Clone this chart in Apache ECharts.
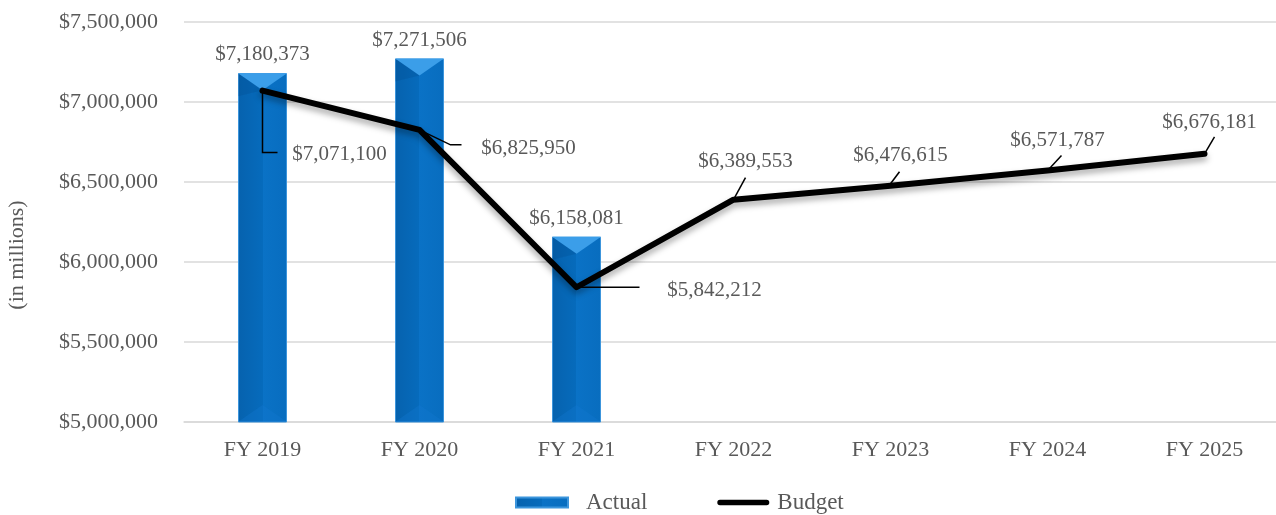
<!DOCTYPE html>
<html>
<head>
<meta charset="utf-8">
<script src="https://cdn.jsdelivr.net/npm/echarts@6/dist/echarts.min.js"></script>
<style>
  html, body { margin: 0; padding: 0; background: #fff; }
  #chart { width: 1276px; height: 515px; }
</style>
</head>
<body>
<div id="chart"></div>
<script>
// data
var years = ['FY 2019', 'FY 2020', 'FY 2021', 'FY 2022', 'FY 2023', 'FY 2024', 'FY 2025'];
var actual = [7180373, 7271506, 6158081, null, null, null, null];
var budget = [7071100, 6825950, 5842212, 6389553, 6476615, 6571787, 6676181];
var yTicks = [5000000, 5500000, 6000000, 6500000, 7000000, 7500000];

// where each budget label sits relative to its point, and its leader line
var budgetLabelOffset = [[77, 64], [109, 19], [138, 3], [12, -38], [10, -30], [10, -30], [5, -31]];
var budgetLeader = [
  [[0, 0], [0, 62], [15, 62]],
  [[0, 0], [31, 15], [42, 15]],
  [[0, 0], [63, 0]],
  [[0, 0], [12, -22]],
  [[0, -2], [9, -14]],
  [[2, -2], [14, -15]],
  [[0, 0], [10, -17]]
];

var font = 'Liberation Serif, Times New Roman, serif';
var txt = '#595959';

function money(v) {
  return '$' + String(v).replace(/\B(?=(\d{3})+(?!\d))/g, ',');
}

var chart = echarts.init(document.getElementById('chart'));

var barFill = new echarts.graphic.LinearGradient(0, 0, 1, 0, [
  { offset: 0, color: '#0662ae' },
  { offset: 0.5, color: '#066bbc' },
  { offset: 0.5, color: '#0a72c6' },
  { offset: 1, color: '#086dbf' }
]);

chart.setOption({
  animation: false,
  grid: { left: 184, top: 22, width: 1099, height: 400, outerBoundsMode: 'none', containLabel: false },
  legend: {
    top: 491,
    left: 515,
    padding: 0,
    itemWidth: 52,
    itemHeight: 10,
    itemGap: 70,
    textStyle: { fontFamily: font, fontSize: 23, color: txt },
    data: [
      { name: 'Actual', icon: 'rect', textStyle: { padding: [0, 0, 0, 13] } },
      { name: 'Budget', icon: 'path://M3,0 L55,0 A3,3 0 0 1 55,6 L3,6 A3,3 0 0 1 3,0 Z',
        itemStyle: { color: '#000' }, textStyle: { padding: [0, 0, 0, 3] } }
    ]
  },
  xAxis: {
    type: 'category',
    data: years,
    axisLine: { lineStyle: { color: '#d9d9d9', width: 1.5 } },
    axisTick: { show: false },
    axisLabel: { fontFamily: font, fontSize: 22, color: txt, margin: 17 }
  },
  yAxis: {
    type: 'value',
    min: yTicks[0],
    max: yTicks[yTicks.length - 1],
    interval: 500000,
    name: '(in millions)',
    nameLocation: 'middle',
    nameGap: 156,
    nameTextStyle: { fontFamily: font, fontSize: 22, color: txt, padding: [0, 66, 0, 0] },
    axisLine: { show: false },
    axisTick: { show: false },
    splitLine: { lineStyle: { color: '#d9d9d9', width: 1.5 } },
    axisLabel: { fontFamily: font, fontSize: 22, color: txt, margin: 26, formatter: money }
  },
  series: [
    {
      name: 'Actual',
      type: 'bar',
      data: actual,
      barWidth: 49,
      itemStyle: { color: barFill, borderColor: '#3c95dc', borderWidth: 1 },
      label: {
        show: true,
        position: 'top',
        distance: 8,
        fontFamily: font,
        fontSize: 21,
        color: txt,
        formatter: function (p) { return money(p.value); }
      },
      z: 2
    },
    {
      // bevel highlights on the bars
      type: 'custom',
      silent: true,
      data: actual.map(function (v, i) { return v == null ? null : [i, v]; }).filter(Boolean),
      encode: { x: 0, y: 1 },
      renderItem: function (params, api) {
        var top = api.coord([api.value(0), api.value(1)]);
        var bottom = api.coord([api.value(0), yTicks[0]]);
        var hw = 24.5;
        var d = 17;
        var l = top[0] - hw, r = top[0] + hw;
        return {
          type: 'group',
          children: [
            { type: 'polygon', shape: { points: [[l, top[1]], [r, top[1]], [top[0], top[1] + d]] },
              style: { fill: '#3b9ee9' } },
            { type: 'polygon', shape: { points: [[l, top[1]], [top[0], top[1] + d], [l, top[1] + d + 6]] },
              style: { fill: 'rgba(0,60,120,0.18)' } },
            { type: 'polygon', shape: { points: [[l, bottom[1]], [r, bottom[1]], [top[0], bottom[1] - d]] },
              style: { fill: 'rgba(20,120,210,0.35)' } }
          ]
        };
      },
      z: 3
    },
    {
      name: 'Budget',
      type: 'line',
      data: budget,
      symbol: 'none',
      lineStyle: {
        color: '#000', width: 6, cap: 'round', join: 'round',
        shadowColor: 'rgba(0,0,0,0.35)', shadowBlur: 6, shadowOffsetY: 4
      },
      itemStyle: { color: '#000' },
      label: { show: false },
      z: 4
    },
    {
      // leader lines and labels for the budget line
      type: 'custom',
      silent: true,
      data: budget.map(function (v, i) { return [i, v]; }),
      encode: { x: 0, y: 1 },
      renderItem: function (params, api) {
        var i = params.dataIndex;
        var p = api.coord([api.value(0), api.value(1)]);
        var pts = budgetLeader[i].map(function (o) { return [p[0] + o[0], p[1] + o[1]]; });
        var off = budgetLabelOffset[i];
        return {
          type: 'group',
          children: [
            { type: 'polyline', shape: { points: pts }, style: { stroke: '#000', lineWidth: 1.5, fill: null } },
            { type: 'text', x: p[0] + off[0], y: p[1] + off[1],
              style: { text: money(budget[i]), fontFamily: font, fontSize: 21, fill: txt,
                       align: 'center', verticalAlign: 'middle' } }
          ]
        };
      },
      z: 5
    }
  ]
});
</script>
</body>
</html>
